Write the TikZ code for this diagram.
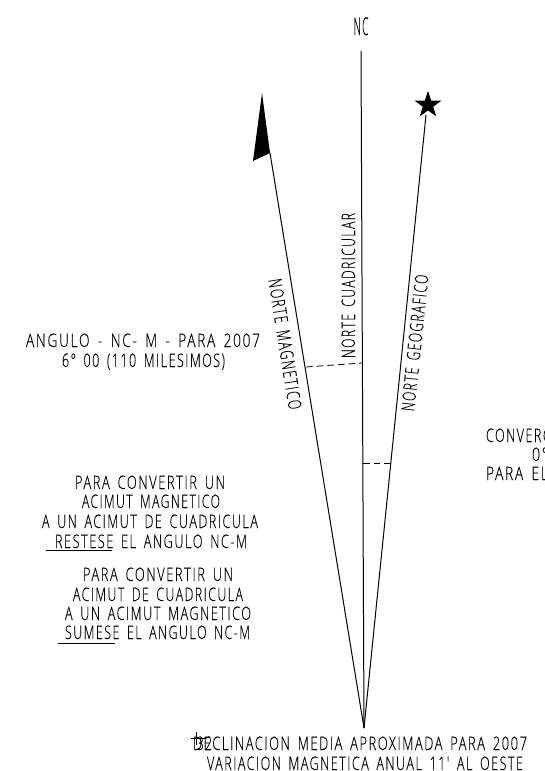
\documentclass[tikz,border=0pt]{standalone}
\usepackage{fontspec}
\usepackage{graphicx}
\newfontfamily\cadfont[LetterSpace=12,WordSpace=1.6,FakeBold=0.1]{Open Sans Light}
\newlength{\pxu}\setlength{\pxu}{0.75pt}
\newcommand{\cadtext}[2]{\resizebox{#1\pxu}{\height}{\fontsize{14pt}{16pt}\cadfont #2}}
\tikzset{
  x=0.75pt,y=-0.75pt,
  lbl/.style={inner sep=0pt,outer sep=0pt,anchor=base},
  nline/.style={line width=0.75pt,black},
  dline/.style={line width=0.6pt,black,dash pattern=on 5pt off 3pt},
}
\begin{document}
\begin{tikzpicture}
\useasboundingbox (0,0) rectangle (545,771);
\coordinate (apex) at (364,728);
\coordinate (nctop) at (361,51);
\coordinate (magbase) at (270,153);
\coordinate (magtip) at (262,93);
\coordinate (magleft) at (253,161);
\coordinate (startail) at (426,115);
\coordinate (d1a) at (306,367);
\coordinate (d1b) at (362,363);
\coordinate (d2a) at (363,463);
\coordinate (d2b) at (390,463);
\draw[nline] (apex) -- (nctop);
\draw[nline] (apex) -- (magbase);
\draw[nline] (apex) -- (startail);
\fill[black] (magtip) -- (magleft) -- (magbase) -- cycle;
\fill[black] ({428+14*sin(0)},{105-14*cos(0)})
  -- ({428+5.5*sin(36)},{105-5.5*cos(36)})
  -- ({428+14*sin(72)},{105-14*cos(72)})
  -- ({428+5.5*sin(108)},{105-5.5*cos(108)})
  -- ({428+14*sin(144)},{105-14*cos(144)})
  -- ({428+5.5*sin(180)},{105-5.5*cos(180)})
  -- ({428+14*sin(216)},{105-14*cos(216)})
  -- ({428+5.5*sin(252)},{105-5.5*cos(252)})
  -- ({428+14*sin(288)},{105-14*cos(288)})
  -- ({428+5.5*sin(324)},{105-5.5*cos(324)}) -- cycle;
\draw[dline] (d1a) -- (d1b);
\draw[dline] (d2a) -- (d2b);
\node[lbl] (nc) at (361,35) {\cadtext{15}{\fontsize{18.5pt}{20pt}\selectfont NC}};
\node[lbl,rotate=90] (ncuad) at (355,285.5) {\cadtext{145}{NORTE CUADRICULAR}};
\node[lbl,rotate=84] (ngeo) at (421.5,343.5) {\cadtext{137}{NORTE GEOGRAFICO}};
\node[lbl,rotate=-81] (nmag) at (278.5,345) {\cadtext{132}{NORTE MAGNETICO}};
\node[lbl] (ang1) at (143,347) {\cadtext{234}{ANGULO - NC- M - PARA 2007}};
\node[lbl] (ang2) at (143.5,367) {\cadtext{163}{6° 00 (110 MILESIMOS)}};
\node[lbl,anchor=base west] (conv1) at (486,442) {\cadtext{66}{CONVERG}};
\node[lbl,anchor=base west] (conv2) at (532,461) {\cadtext{16}{0°}};
\node[lbl,anchor=base west] (conv3) at (486,480) {\cadtext{62}{PARA EL}};
\node[lbl] (a1) at (150,489) {\cadtext{150}{PARA CONVERTIR UN}};
\node[lbl] (a2) at (151,508) {\cadtext{138}{ACIMUT MAGNETICO}};
\node[lbl] (a3) at (150,528) {\cadtext{216}{A UN ACIMUT DE CUADRICULA}};
\node[lbl] (a4) at (151,548) {\cadtext{192}{RESTESE EL ANGULO NC-M}};
\coordinate (u1a) at (46,550);
\coordinate (u1b) at (112,550);
\draw[line width=0.6pt] (u1a) -- (u1b);
\node[lbl] (b1) at (158,581) {\cadtext{150}{PARA CONVERTIR UN}};
\node[lbl] (b2) at (158,601) {\cadtext{170}{ACIMUT DE CUADRICULA}};
\node[lbl] (b3) at (158,620) {\cadtext{186}{A UN ACIMUT MAGNETICO}};
\node[lbl] (b4) at (157.5,639) {\cadtext{185}{SUMESE EL ANGULO NC-M}};
\coordinate (u2a) at (58,643);
\coordinate (u2b) at (115,643);
\draw[line width=0.6pt] (u2a) -- (u2b);
\node[lbl] (c1) at (360,750) {\cadtext{334}{DECLINACION MEDIA APROXIMADA PARA 2007}};
\node[lbl] (c2) at (365,770) {\cadtext{316}{VARIACION MAGNETICA ANUAL 11' AL OESTE}};
\node[lbl] (c3) at (204.5,750) {\cadtext{15}{32}};
\coordinate (pw) at (191,738);
\coordinate (pe) at (206,738);
\coordinate (pn) at (196,732);
\coordinate (ps) at (196,745);
\draw[line width=0.5pt] (pw) -- (pe);
\draw[line width=0.5pt] (pn) -- (ps);
\end{tikzpicture}
\end{document}
